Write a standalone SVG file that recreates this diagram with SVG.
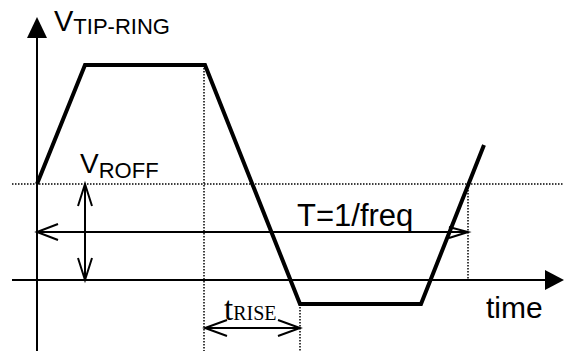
<svg xmlns="http://www.w3.org/2000/svg" width="568" height="351" viewBox="0 0 568 351">
<style>
.axis{stroke:#000;stroke-width:2;fill:none}
.wave{stroke:#000;stroke-width:4;fill:none;stroke-linejoin:miter}
.dot{stroke:#000;stroke-width:1.5;fill:none;stroke-dasharray:1.5 1.5}
.dim{stroke:#000;stroke-width:2;fill:none}
.sans{font-family:"Liberation Sans",Arial,sans-serif;fill:#000}
.serif{font-family:"Liberation Serif","Times New Roman",serif;fill:#000}
</style>
<rect width="568" height="351" fill="#fff"/>
<g id="guides">
<line class="dot" x1="12" y1="184" x2="563" y2="184"/>
<line class="dot" x1="204" y1="65" x2="204" y2="351"/>
<line class="dot" x1="300" y1="304" x2="300" y2="351"/>
<line class="dot" x1="468" y1="184" x2="468" y2="280"/>
</g>
<g id="axes">
<line class="axis" x1="37" y1="36" x2="37" y2="351"/>
<polygon points="37,17 27,38 47,38" fill="#000"/>
<line class="axis" x1="12" y1="280" x2="546" y2="280"/>
<polygon points="564,280 545,270 545,290" fill="#000"/>
</g>
<g id="waveform">
<polyline class="wave" points="37,184 85,65 205,65 300,304 421,304 484,145"/>
</g>
<g id="connectors">
<line class="dim" x1="37" y1="232" x2="468" y2="232"/>
<polyline class="dim" points="58,224 37,232 58,240"/>
<polyline class="dim" points="449,227 468,232 449,238"/>
<line class="dim" x1="85" y1="184" x2="85" y2="280"/>
<polyline class="dim" points="78,206 85,184 92,206"/>
<polyline class="dim" points="78,258 85,280 92,258"/>
<line class="dim" x1="205" y1="328" x2="300" y2="328"/>
<polyline class="dim" points="227,320 205,328 227,336"/>
<polyline class="dim" points="278,320 300,328 278,336"/>
</g>
<g id="labels">
<text class="sans" x="54" y="31" font-size="29">V<tspan font-size="22" dy="3">TIP-RING</tspan></text>
<text class="sans" x="80" y="173" font-size="28">V<tspan font-size="22" dy="5">ROFF</tspan></text>
<text class="sans" x="297" y="226" font-size="31">T=1/freq</text>
<text class="sans" x="486" y="318" font-size="30">time</text>
<text class="serif" x="224" y="320" font-size="33">t<tspan font-size="20">RISE</tspan></text>
</g>
</svg>
